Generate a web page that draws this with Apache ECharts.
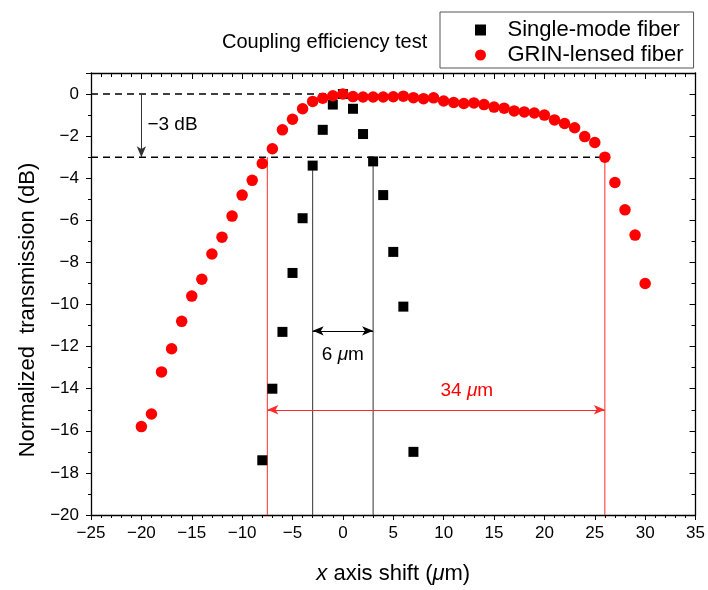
<!DOCTYPE html>
<html>
<head>
<meta charset="utf-8">
<title>Coupling efficiency test</title>
<script src="https://cdn.jsdelivr.net/npm/echarts@6/dist/echarts.min.js"></script>
<style>
  html, body { margin: 0; padding: 0; background: #fff; }
  #chart { width: 708px; height: 590px; }
</style>
</head>
<body>
<div id="chart"></div>
<script>
// single-mode fiber (black squares)
var smfX = [-8, -7, -6, -5, -4, -3, -2, -1, 0, 1, 2, 3, 4, 5, 6, 7];
var smfY = [-17.4, -14.0, -11.3, -8.5, -5.9, -3.4, -1.7, -0.5, 0, -0.7, -1.9, -3.2, -4.8, -7.5, -10.1, -17.0];

// GRIN-lensed fiber (red circles)
var grinX = [-20, -19, -18, -17, -16, -15, -14, -13, -12, -11, -10, -9, -8, -7, -6, -5, -4, -3, -2, -1,
  0, 1, 2, 3, 4, 5, 6, 7, 8, 9, 10, 11, 12, 13, 14, 15, 16, 17, 18, 19, 20,
  21, 22, 23, 24, 25, 26, 27, 28, 29, 30];
var grinY = [-15.8, -15.2, -13.2, -12.1, -10.8, -9.6, -8.8, -7.6, -6.8, -5.8, -4.8, -4.1, -3.3, -2.6, -1.7, -1.2, -0.7, -0.35, -0.2, -0.08,
  0, -0.12, -0.14, -0.14, -0.14, -0.13, -0.1, -0.17, -0.22, -0.18, -0.33, -0.4, -0.45, -0.42, -0.5, -0.62, -0.67, -0.8, -0.85, -0.9, -1.0,
  -1.23, -1.4, -1.6, -2.02, -2.3, -3.0, -4.2, -5.5, -6.7, -9.0];

// annotation values (data coordinates)
var smfEdges = [-3, 3];        // 6 um width
var grinEdges = [-7.5, 26];    // 34 um width
var dbLevels = [0, -3];

var chart = echarts.init(document.getElementById('chart'));
var FONT = '"Liberation Sans", Arial, sans-serif';
var RED = '#ff0000';
var RED_LINE = '#ff2b2b';

function minus(v) { return v < 0 ? '\u2212' + Math.abs(v) : String(v); }
function pairs(xs, ys) {
  var out = [];
  for (var i = 0; i < xs.length; i++) out.push([xs[i], ys[i]]);
  return out;
}
// plain guide segment drawn as its own line series
function guide(x1, y1, x2, y2, style) {
  return {
    type: 'line', silent: true, z: 1,
    symbol: 'none', animation: false,
    lineStyle: style,
    emphasis: { disabled: true },
    data: [[x1, y1], [x2, y2]]
  };
}
// arrow segment for markLine
function arrow(x1, y1, x2, y2, style, ends) {
  return [
    { coord: [x1, y1], symbol: ends[0], symbolSize: [7, 11], lineStyle: style },
    { coord: [x2, y2], symbol: ends[1], symbolSize: [7, 11], lineStyle: style }
  ];
}

var axisLine = { onZero: false, lineStyle: { color: '#000', width: 1.3 } };
var dashed = { type: [7, 5], color: '#000', width: 1.5 };
var thinBlack = { type: 'solid', color: '#333', width: 1 };
var thinRed = { type: 'solid', color: RED_LINE, width: 1 };

var option = {
  animation: false,
  textStyle: { fontFamily: FONT },
  title: {
    text: 'Coupling efficiency test',
    left: 217, top: 27,
    textStyle: { fontFamily: FONT, fontSize: 20, fontWeight: 'normal', color: '#000' }
  },
  legend: {
    data: [
      { name: 'Single-mode fiber', icon: 'path://M0,0H10V10H0Z' },
      { name: 'GRIN-lensed fiber', icon: 'circle' }
    ],
    orient: 'vertical',
    left: 440, top: 12,
    padding: [6, 10, 1, 35],
    itemGap: 1,
    itemWidth: 44, itemHeight: 11,
    borderColor: '#555', borderWidth: 1,
    textStyle: { fontFamily: FONT, fontSize: 22, color: '#000', lineHeight: 24 }
  },
  grid: { left: 91, right: 10, top: 73, bottom: 70 },
  xAxis: [{
    type: 'value', position: 'bottom',
    min: -25, max: 35, interval: 5,
    axisLine: axisLine,
    axisTick: { inside: false, length: 5, lineStyle: { color: '#000' } },
    minorTick: { show: true, splitNumber: 5, length: 3, lineStyle: { color: '#000' } },
    splitLine: { show: false },
    axisLabel: { color: '#000', fontSize: 17, margin: 10, formatter: minus },
    name: '{i|x} axis shift ({i|\u03bc}m)',
    nameLocation: 'middle', nameGap: 48,
    nameTextStyle: {
      fontSize: 22, color: '#000', fontFamily: FONT,
      rich: { i: { fontSize: 22, fontStyle: 'italic', fontFamily: FONT, color: '#000' } }
    }
  }, {
    type: 'value', position: 'top',
    min: -25, max: 35, interval: 5,
    axisLine: axisLine,
    axisTick: { inside: true, length: 6, lineStyle: { color: '#000' } },
    minorTick: { show: true, splitNumber: 5, length: 4, lineStyle: { color: '#000' } },
    splitLine: { show: false },
    axisLabel: { show: false }
  }],
  yAxis: [{
    type: 'value', position: 'left',
    min: -20, max: 1, interval: 2,
    axisLine: axisLine,
    axisTick: { inside: false, length: 5, lineStyle: { color: '#000' } },
    minorTick: { show: true, splitNumber: 2, length: 3, lineStyle: { color: '#000' } },
    splitLine: { show: false },
    axisLabel: { color: '#000', fontSize: 17, margin: 12, formatter: minus, showMaxLabel: false },
    name: 'Normalized  transmission (dB)',
    nameLocation: 'middle', nameGap: 52,
    nameTextStyle: { fontSize: 22, color: '#000', fontFamily: FONT, padding: [0, 32, 0, 0] }
  }, {
    type: 'value', position: 'right',
    min: -20, max: 1, interval: 2,
    axisLine: axisLine,
    axisTick: { inside: true, length: 6, lineStyle: { color: '#000' } },
    minorTick: { show: true, splitNumber: 2, length: 4, lineStyle: { color: '#000' } },
    splitLine: { show: false },
    axisLabel: { show: false }
  }],
  series: [
    guide(-25, dbLevels[0], 0, dbLevels[0], dashed),
    guide(-25, dbLevels[1], grinEdges[1], dbLevels[1], dashed),
    guide(smfEdges[0], -3.2, smfEdges[0], -20, thinBlack),
    guide(smfEdges[1], -3.2, smfEdges[1], -20, thinBlack),
    guide(grinEdges[0], dbLevels[1], grinEdges[0], -20, thinRed),
    guide(grinEdges[1], dbLevels[1], grinEdges[1], -20, thinRed),
  {
    // arrows and text annotations
    name: 'notes', type: 'line', data: [], z: 2,
    silent: true,
    markLine: {
      silent: true,
      symbol: ['none', 'none'],
      label: { show: false },
      emphasis: { disabled: true },
      data: [
        arrow(-20, dbLevels[0], -20, dbLevels[1], thinBlack, ['none', 'arrow']),
        arrow(smfEdges[0], -11.25, smfEdges[1], -11.25, { type: 'solid', color: '#000', width: 1 }, ['arrow', 'arrow']),
        arrow(grinEdges[0], -15, grinEdges[1], -15, thinRed, ['arrow', 'arrow'])
      ]
    },
    markPoint: {
      silent: true,
      symbol: 'circle', symbolSize: 0,
      data: [
        { coord: [-19.4, -1.45], label: { show: true, position: 'inside', align: 'left', formatter: '\u22123 dB', fontSize: 19, color: '#000', fontFamily: FONT } },
        { coord: [0, -12.4], label: { show: true, position: 'inside', formatter: '6 {i|\u03bc}m', fontSize: 19, color: '#000', fontFamily: FONT,
          rich: { i: { fontSize: 19, fontStyle: 'italic', color: '#000', fontFamily: FONT } } } },
        { coord: [12.3, -14.1], label: { show: true, position: 'inside', formatter: '34 {i|\u03bc}m', fontSize: 19, color: RED, fontFamily: FONT,
          rich: { i: { fontSize: 19, fontStyle: 'italic', color: RED, fontFamily: FONT } } } }
      ]
    }
  }, {
    name: 'Single-mode fiber', type: 'scatter',
    symbol: 'rect', symbolSize: 10,
    itemStyle: { color: '#000', opacity: 1 },
    z: 3,
    data: pairs(smfX, smfY)
  }, {
    name: 'GRIN-lensed fiber', type: 'scatter',
    symbol: 'circle', symbolSize: 11.5,
    itemStyle: { color: RED, opacity: 1 },
    z: 4,
    data: pairs(grinX, grinY)
  }]
};

chart.setOption(option);
</script>
</body>
</html>
